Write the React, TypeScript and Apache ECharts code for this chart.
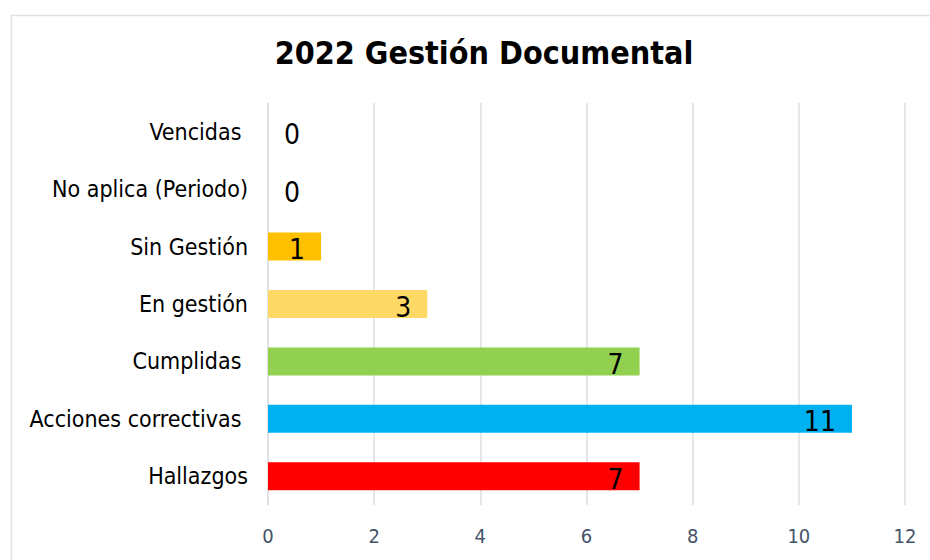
import React, { useEffect, useRef } from "react";
import * as echarts from "echarts";

const categories = [
  "Vencidas ",
  "No aplica (Periodo)",
  "Sin Gestión",
  "En gestión",
  "Cumplidas ",
  "Acciones correctivas ",
  "Hallazgos",
];
const values = [0, 0, 1, 3, 7, 11, 7];
const barColors = ["#FFC000", "#FFC000", "#FFC000", "#FFD966", "#92D050", "#00B0F0", "#FF0000"];
const xTicks = { min: 0, max: 12, interval: 2 };
const titleText = "2022 Gestión Documental";

const FONT = "'DejaVu Sans Condensed', 'DejaVu Sans', sans-serif";

export default function App() {
  const ref = useRef<HTMLDivElement>(null);
  useEffect(() => {
    if (!ref.current) return;
    const chart = echarts.init(ref.current, null, { renderer: "svg" });
    chart.setOption({
      animation: false,
      backgroundColor: "#ffffff",
      title: {
        text: titleText,
        left: 479,
        top: 32,
        textAlign: "center",
        textStyle: { fontFamily: FONT, fontWeight: "bold", fontSize: 32, color: "#000000" },
      },
      graphic: [
        {
          type: "rect",
          left: 9,
          top: 13,
          shape: { width: 1000, height: 700 },
          style: { fill: "none", stroke: "#dde2e8", lineWidth: 1.5 },
          silent: true,
          z: -1,
        },
      ],
      grid: { left: 268, right: 25, top: 103, bottom: 55, containLabel: false },
      xAxis: {
        type: "value",
        min: xTicks.min,
        max: xTicks.max,
        interval: xTicks.interval,
        axisLine: { show: false },
        axisTick: { show: false },
        splitLine: { show: true, lineStyle: { color: "#dde1e7", width: 1.6 } },
        axisLabel: { color: "#44546a", fontFamily: FONT, fontSize: 20, margin: 21 },
      },
      yAxis: {
        type: "category",
        inverse: true,
        data: categories,
        axisLine: { show: true, lineStyle: { color: "#dde1e7", width: 1.6 } },
        axisTick: { show: false },
        axisLabel: { color: "#000000", fontFamily: FONT, fontSize: 23, margin: 20 },
      },
      series: [
        {
          type: "bar",
          barWidth: 28,
          data: values.map((v, i) => ({
            value: v,
            itemStyle: { color: barColors[i] },
            label:
              v === 0
                ? { position: "right", distance: 16 }
                : { position: "insideRight", distance: 16 },
          })),
          label: {
            show: true,
            color: "#000000",
            fontFamily: FONT,
            fontSize: 28,
            offset: [0, 3],
          },
        },
      ],
    });
    return () => chart.dispose();
  }, []);
  return <div ref={ref} style={{ width: 930, height: 560, position: "absolute", left: 0, top: 0 }} />;
}
